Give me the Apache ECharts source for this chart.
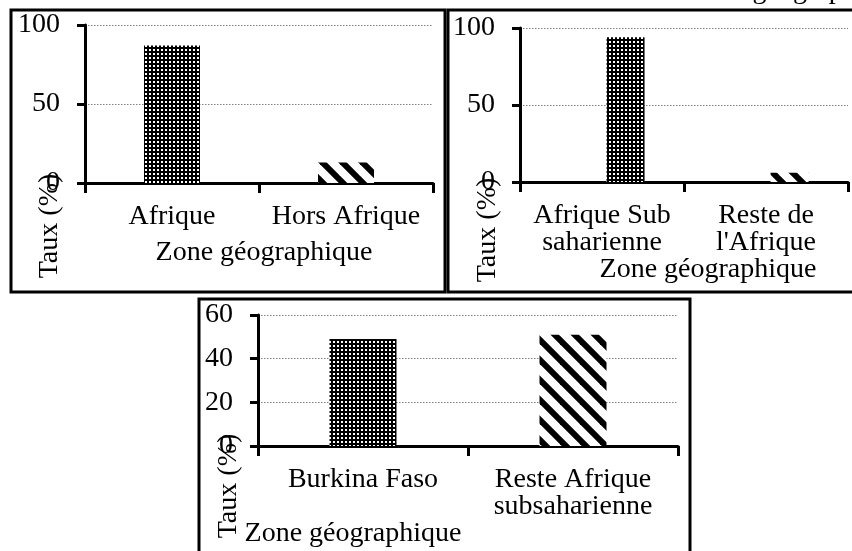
<!DOCTYPE html>
<html><head><meta charset="utf-8">
<script src="https://cdn.jsdelivr.net/npm/echarts@6/dist/echarts.min.js"></script>
<style>html,body{margin:0;padding:0;background:#fff}#c{width:852px;height:551px}</style>
</head><body><div id="c"></div>
<script>
// ---- data ----
const cats1 = ['Afrique', 'Hors Afrique'];
const vals1 = [87, 13];
const cats2 = ['Afrique Sub\nsaharienne', 'Reste de\nl\'Afrique'];
const vals2 = [94, 6];
const cats3 = ['Burkina Faso', 'Reste Afrique\nsubsaharienne'];
const vals3 = [49, 51];
const yTitle = 'Taux (%)';
const xTitle = 'Zone géographique';

// ---- patterns ----
function dotTile() {
  const c = document.createElement('canvas'); c.width = 4; c.height = 4;
  const g = c.getContext('2d');
  g.fillStyle = '#000'; g.fillRect(0, 0, 4, 4);
  g.fillStyle = '#fff'; g.fillRect(1, 1, 2, 2);
  return c;
}
function stripeTile() {
  const s = 20;
  const c = document.createElement('canvas'); c.width = s; c.height = s;
  const g = c.getContext('2d');
  g.fillStyle = '#fff'; g.fillRect(0, 0, s, s);
  g.strokeStyle = '#000'; g.lineWidth = 6;
  for (let k = -2; k <= 2; k++) {
    g.beginPath(); g.moveTo(k * s - s, -s); g.lineTo(k * s + 2 * s, 2 * s); g.stroke();
  }
  return c;
}
const dotFill = { image: dotTile(), repeat: 'repeat' };
const stripeFill = { image: stripeTile(), repeat: 'repeat' };
const fills = [dotFill, stripeFill];

const FONT = 'Liberation Serif';
const FS = 28;

function xAx(i, cats) {
  return {
    type: 'category', gridIndex: i, data: cats,
    axisLine: { show: true, lineStyle: { color: '#000', width: 3 } },
    axisTick: { show: true, length: 10, lineStyle: { color: '#000', width: 3 } },
    axisLabel: { interval: 0, color: '#000', fontFamily: FONT, fontSize: FS, lineHeight: 27, margin: 20 },
    splitLine: { show: false }
  };
}
function yAx(i, max, interval) {
  return {
    type: 'value', gridIndex: i, min: 0, max: max, interval: interval,
    axisLine: { show: true, lineStyle: { color: '#000', width: 3 } },
    axisTick: { show: true, length: 8, lineStyle: { color: '#000', width: 3 } },
    axisLabel: { color: '#000', fontFamily: FONT, fontSize: FS, margin: 25 },
    splitLine: { show: true, lineStyle: { color: '#808080', width: 1, type: [1.5, 1.5] } }
  };
}
function items(vals) {
  return vals.map((v, i) => ({ value: v, itemStyle: { color: fills[i] } }));
}
function txt(x, y, rot) {
  return {
    type: 'text', x: x, y: y, rotation: rot || 0, z: 10,
    style: { text: rot ? yTitle : xTitle, fill: '#000', fontFamily: FONT, fontSize: FS, align: 'center', verticalAlign: 'middle' }
  };
}
function box(x, y, w, h) {
  return { type: 'rect', z: 20, shape: { x: x, y: y, width: w, height: h }, style: { fill: 'rgba(0,0,0,0)', stroke: '#000', lineWidth: 3 } };
}

const chart = echarts.init(document.getElementById('c'), null, { renderer: 'canvas' });
chart.setOption({
  animation: false,
  backgroundColor: '#fff',
  grid: [
    { left: 85, top: 25, width: 348, height: 158 },
    { left: 520, top: 28, width: 328, height: 154 },
    { left: 258, top: 315, width: 420, height: 131 }
  ],
  xAxis: [xAx(0, cats1), xAx(1, cats2), xAx(2, cats3)],
  yAxis: [yAx(0, 100, 50), yAx(1, 100, 50), yAx(2, 60, 20)],
  series: [
    { type: 'bar', xAxisIndex: 0, yAxisIndex: 0, barWidth: 56, data: items(vals1) },
    { type: 'bar', xAxisIndex: 1, yAxisIndex: 1, barWidth: 38, data: ['-', '-'] },
    { type: 'bar', xAxisIndex: 1, yAxisIndex: 1, barWidth: 38, barGap: '24%', data: items(vals2) },
    { type: 'bar', xAxisIndex: 2, yAxisIndex: 2, barWidth: 67, data: items(vals3) }
  ],
  graphic: [
    box(11, 10, 434, 282),
    box(448, 10, 420, 282),
    box(199, 299, 491, 280),
    txt(50, 226, Math.PI / 2),
    txt(488, 230, Math.PI / 2),
    txt(229, 486, Math.PI / 2),
    txt(264, 253),
    txt(708, 270),
    txt(353, 534),
    { type: 'text', x: 688, y: -9, z: 10, style: { text: xTitle, fill: '#000', fontFamily: FONT, fontSize: FS, align: 'left', verticalAlign: 'middle' } }
  ]
});
</script></body></html>
